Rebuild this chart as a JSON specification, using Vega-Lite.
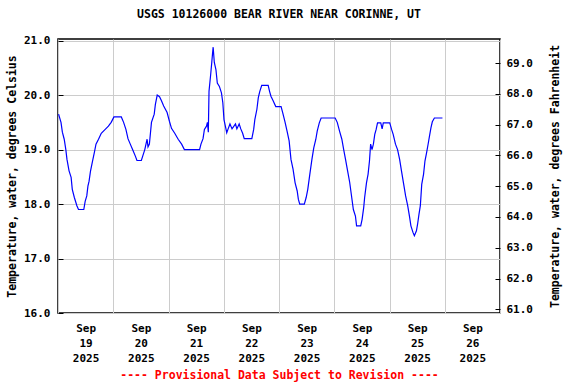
{
  "$schema": "https://vega.github.io/schema/vega-lite/v6.json",
  "width": 442,
  "height": 274,
  "autosize": {"type": "none"},
  "padding": {"left": 58, "top": 39, "right": 76, "bottom": 71},
  "background": "white",
  "title": {
    "text": "USGS 10126000 BEAR RIVER NEAR CORINNE, UT",
    "font": "DejaVu Sans Mono",
    "fontSize": 11.5,
    "fontWeight": "bold",
    "color": "black",
    "offset": 14
  },
  "config": {
    "view": {"stroke": "black", "strokeWidth": 1.5},
    "axis": {
      "labelFont": "DejaVu Sans Mono",
      "labelFontWeight": "bold",
      "labelFontSize": 11,
      "labelColor": "black",
      "titleFont": "DejaVu Sans Mono",
      "titleFontWeight": "bold",
      "titleFontSize": 11.5,
      "titleColor": "black",
      "gridColor": "#cccccc",
      "gridWidth": 1,
      "gridOpacity": 1,
      "domain": false,
      "tickColor": "black"
    }
  },
  "datasets": {
    "temps": [
      {"dateTime": "2025-09-19T00:15", "temp": 19.65},
      {"dateTime": "2025-09-19T01:18", "temp": 19.5},
      {"dateTime": "2025-09-19T01:54", "temp": 19.32},
      {"dateTime": "2025-09-19T02:42", "temp": 19.19},
      {"dateTime": "2025-09-19T03:24", "temp": 19.0},
      {"dateTime": "2025-09-19T03:54", "temp": 18.82},
      {"dateTime": "2025-09-19T04:48", "temp": 18.61},
      {"dateTime": "2025-09-19T05:42", "temp": 18.49},
      {"dateTime": "2025-09-19T06:12", "temp": 18.27},
      {"dateTime": "2025-09-19T07:06", "temp": 18.12},
      {"dateTime": "2025-09-19T08:12", "temp": 17.97},
      {"dateTime": "2025-09-19T08:54", "temp": 17.9},
      {"dateTime": "2025-09-19T11:12", "temp": 17.9},
      {"dateTime": "2025-09-19T11:48", "temp": 18.05},
      {"dateTime": "2025-09-19T12:30", "temp": 18.15},
      {"dateTime": "2025-09-19T13:00", "temp": 18.33},
      {"dateTime": "2025-09-19T13:30", "temp": 18.42},
      {"dateTime": "2025-09-19T14:06", "temp": 18.6},
      {"dateTime": "2025-09-19T15:00", "temp": 18.79},
      {"dateTime": "2025-09-19T15:48", "temp": 18.95},
      {"dateTime": "2025-09-19T16:30", "temp": 19.1},
      {"dateTime": "2025-09-19T17:36", "temp": 19.19},
      {"dateTime": "2025-09-19T18:48", "temp": 19.3},
      {"dateTime": "2025-09-19T20:30", "temp": 19.37},
      {"dateTime": "2025-09-19T21:54", "temp": 19.43},
      {"dateTime": "2025-09-19T23:06", "temp": 19.5},
      {"dateTime": "2025-09-20T00:18", "temp": 19.6},
      {"dateTime": "2025-09-20T03:30", "temp": 19.6},
      {"dateTime": "2025-09-20T04:30", "temp": 19.5},
      {"dateTime": "2025-09-20T05:30", "temp": 19.37},
      {"dateTime": "2025-09-20T06:24", "temp": 19.2},
      {"dateTime": "2025-09-20T07:24", "temp": 19.1},
      {"dateTime": "2025-09-20T08:24", "temp": 19.0},
      {"dateTime": "2025-09-20T09:36", "temp": 18.88},
      {"dateTime": "2025-09-20T10:18", "temp": 18.8},
      {"dateTime": "2025-09-20T12:12", "temp": 18.8},
      {"dateTime": "2025-09-20T12:48", "temp": 18.88},
      {"dateTime": "2025-09-20T13:42", "temp": 19.0},
      {"dateTime": "2025-09-20T14:42", "temp": 19.19},
      {"dateTime": "2025-09-20T15:06", "temp": 19.05},
      {"dateTime": "2025-09-20T15:42", "temp": 19.1},
      {"dateTime": "2025-09-20T16:36", "temp": 19.5},
      {"dateTime": "2025-09-20T17:48", "temp": 19.65},
      {"dateTime": "2025-09-20T18:18", "temp": 19.83},
      {"dateTime": "2025-09-20T19:06", "temp": 20.0},
      {"dateTime": "2025-09-20T20:06", "temp": 19.97},
      {"dateTime": "2025-09-20T20:54", "temp": 19.9},
      {"dateTime": "2025-09-20T21:54", "temp": 19.8},
      {"dateTime": "2025-09-20T23:24", "temp": 19.68},
      {"dateTime": "2025-09-21T00:24", "temp": 19.52},
      {"dateTime": "2025-09-21T01:18", "temp": 19.39},
      {"dateTime": "2025-09-21T02:42", "temp": 19.3},
      {"dateTime": "2025-09-21T04:12", "temp": 19.19},
      {"dateTime": "2025-09-21T05:42", "temp": 19.1},
      {"dateTime": "2025-09-21T06:54", "temp": 19.0},
      {"dateTime": "2025-09-21T13:30", "temp": 19.0},
      {"dateTime": "2025-09-21T14:06", "temp": 19.1},
      {"dateTime": "2025-09-21T15:00", "temp": 19.2},
      {"dateTime": "2025-09-21T15:36", "temp": 19.37},
      {"dateTime": "2025-09-21T16:30", "temp": 19.43},
      {"dateTime": "2025-09-21T16:54", "temp": 19.5},
      {"dateTime": "2025-09-21T17:18", "temp": 19.32},
      {"dateTime": "2025-09-21T17:36", "temp": 20.07},
      {"dateTime": "2025-09-21T18:18", "temp": 20.37},
      {"dateTime": "2025-09-21T18:48", "temp": 20.6},
      {"dateTime": "2025-09-21T19:06", "temp": 20.75},
      {"dateTime": "2025-09-21T19:24", "temp": 20.88},
      {"dateTime": "2025-09-21T19:54", "temp": 20.6},
      {"dateTime": "2025-09-21T20:36", "temp": 20.47},
      {"dateTime": "2025-09-21T21:12", "temp": 20.22},
      {"dateTime": "2025-09-21T22:06", "temp": 20.16},
      {"dateTime": "2025-09-21T23:00", "temp": 20.04},
      {"dateTime": "2025-09-21T23:36", "temp": 19.86},
      {"dateTime": "2025-09-22T00:06", "temp": 19.55},
      {"dateTime": "2025-09-22T00:42", "temp": 19.43},
      {"dateTime": "2025-09-22T01:18", "temp": 19.31},
      {"dateTime": "2025-09-22T01:54", "temp": 19.38},
      {"dateTime": "2025-09-22T02:42", "temp": 19.47},
      {"dateTime": "2025-09-22T03:36", "temp": 19.38},
      {"dateTime": "2025-09-22T05:06", "temp": 19.47},
      {"dateTime": "2025-09-22T05:42", "temp": 19.38},
      {"dateTime": "2025-09-22T06:42", "temp": 19.47},
      {"dateTime": "2025-09-22T07:24", "temp": 19.38},
      {"dateTime": "2025-09-22T08:12", "temp": 19.3},
      {"dateTime": "2025-09-22T08:54", "temp": 19.2},
      {"dateTime": "2025-09-22T12:12", "temp": 19.2},
      {"dateTime": "2025-09-22T13:00", "temp": 19.37},
      {"dateTime": "2025-09-22T13:30", "temp": 19.55},
      {"dateTime": "2025-09-22T14:24", "temp": 19.74},
      {"dateTime": "2025-09-22T15:00", "temp": 19.95},
      {"dateTime": "2025-09-22T15:36", "temp": 20.06},
      {"dateTime": "2025-09-22T16:30", "temp": 20.18},
      {"dateTime": "2025-09-22T19:18", "temp": 20.18},
      {"dateTime": "2025-09-22T19:54", "temp": 20.07},
      {"dateTime": "2025-09-22T20:30", "temp": 19.98},
      {"dateTime": "2025-09-22T21:24", "temp": 19.9},
      {"dateTime": "2025-09-22T22:36", "temp": 19.79},
      {"dateTime": "2025-09-23T00:54", "temp": 19.79},
      {"dateTime": "2025-09-23T01:36", "temp": 19.68},
      {"dateTime": "2025-09-23T02:36", "temp": 19.51},
      {"dateTime": "2025-09-23T03:30", "temp": 19.34},
      {"dateTime": "2025-09-23T04:24", "temp": 19.16},
      {"dateTime": "2025-09-23T05:12", "temp": 18.82},
      {"dateTime": "2025-09-23T06:06", "temp": 18.64},
      {"dateTime": "2025-09-23T07:00", "temp": 18.39},
      {"dateTime": "2025-09-23T07:54", "temp": 18.24},
      {"dateTime": "2025-09-23T08:24", "temp": 18.09},
      {"dateTime": "2025-09-23T09:00", "temp": 18.0},
      {"dateTime": "2025-09-23T11:00", "temp": 18.0},
      {"dateTime": "2025-09-23T11:48", "temp": 18.12},
      {"dateTime": "2025-09-23T12:30", "temp": 18.27},
      {"dateTime": "2025-09-23T13:24", "temp": 18.55},
      {"dateTime": "2025-09-23T14:18", "temp": 18.82},
      {"dateTime": "2025-09-23T15:06", "temp": 19.03},
      {"dateTime": "2025-09-23T16:00", "temp": 19.19},
      {"dateTime": "2025-09-23T16:36", "temp": 19.34},
      {"dateTime": "2025-09-23T17:30", "temp": 19.49},
      {"dateTime": "2025-09-23T18:18", "temp": 19.58},
      {"dateTime": "2025-09-24T00:24", "temp": 19.58},
      {"dateTime": "2025-09-24T01:18", "temp": 19.5},
      {"dateTime": "2025-09-24T02:18", "temp": 19.34},
      {"dateTime": "2025-09-24T03:18", "temp": 19.19},
      {"dateTime": "2025-09-24T04:06", "temp": 19.0},
      {"dateTime": "2025-09-24T04:54", "temp": 18.82},
      {"dateTime": "2025-09-24T05:48", "temp": 18.61},
      {"dateTime": "2025-09-24T06:42", "temp": 18.4},
      {"dateTime": "2025-09-24T07:24", "temp": 18.18},
      {"dateTime": "2025-09-24T08:18", "temp": 17.9},
      {"dateTime": "2025-09-24T09:12", "temp": 17.78},
      {"dateTime": "2025-09-24T09:42", "temp": 17.6},
      {"dateTime": "2025-09-24T11:30", "temp": 17.6},
      {"dateTime": "2025-09-24T12:06", "temp": 17.72},
      {"dateTime": "2025-09-24T12:48", "temp": 17.94},
      {"dateTime": "2025-09-24T13:12", "temp": 18.12},
      {"dateTime": "2025-09-24T14:00", "temp": 18.39},
      {"dateTime": "2025-09-24T14:42", "temp": 18.55},
      {"dateTime": "2025-09-24T15:18", "temp": 18.79},
      {"dateTime": "2025-09-24T15:48", "temp": 19.1},
      {"dateTime": "2025-09-24T16:24", "temp": 19.0},
      {"dateTime": "2025-09-24T17:00", "temp": 19.1},
      {"dateTime": "2025-09-24T17:36", "temp": 19.28},
      {"dateTime": "2025-09-24T18:12", "temp": 19.37},
      {"dateTime": "2025-09-24T18:48", "temp": 19.49},
      {"dateTime": "2025-09-24T20:12", "temp": 19.49},
      {"dateTime": "2025-09-24T20:48", "temp": 19.38},
      {"dateTime": "2025-09-24T21:18", "temp": 19.49},
      {"dateTime": "2025-09-25T00:06", "temp": 19.49},
      {"dateTime": "2025-09-25T00:54", "temp": 19.37},
      {"dateTime": "2025-09-25T01:36", "temp": 19.28},
      {"dateTime": "2025-09-25T02:36", "temp": 19.1},
      {"dateTime": "2025-09-25T03:30", "temp": 19.0},
      {"dateTime": "2025-09-25T04:24", "temp": 18.82},
      {"dateTime": "2025-09-25T05:12", "temp": 18.61},
      {"dateTime": "2025-09-25T06:06", "temp": 18.38},
      {"dateTime": "2025-09-25T07:00", "temp": 18.15},
      {"dateTime": "2025-09-25T07:54", "temp": 17.97},
      {"dateTime": "2025-09-25T08:42", "temp": 17.77},
      {"dateTime": "2025-09-25T09:18", "temp": 17.6},
      {"dateTime": "2025-09-25T10:12", "temp": 17.48},
      {"dateTime": "2025-09-25T10:48", "temp": 17.42},
      {"dateTime": "2025-09-25T11:42", "temp": 17.51},
      {"dateTime": "2025-09-25T12:12", "temp": 17.63},
      {"dateTime": "2025-09-25T12:48", "temp": 17.81},
      {"dateTime": "2025-09-25T13:24", "temp": 17.97},
      {"dateTime": "2025-09-25T14:00", "temp": 18.36},
      {"dateTime": "2025-09-25T14:48", "temp": 18.55},
      {"dateTime": "2025-09-25T15:24", "temp": 18.79},
      {"dateTime": "2025-09-25T16:06", "temp": 18.94},
      {"dateTime": "2025-09-25T16:54", "temp": 19.13},
      {"dateTime": "2025-09-25T17:30", "temp": 19.28},
      {"dateTime": "2025-09-25T18:00", "temp": 19.4},
      {"dateTime": "2025-09-25T18:36", "temp": 19.51},
      {"dateTime": "2025-09-25T19:30", "temp": 19.58},
      {"dateTime": "2025-09-25T23:00", "temp": 19.58}
    ],
    "fahrenheitRange": [{"tempF": 61.0}, {"tempF": 69.0}]
  },
  "layer": [
    {
      "data": {"name": "temps"},
      "mark": {"type": "line", "color": "#0000ff", "strokeWidth": 1.2, "clip": true},
      "encoding": {
        "x": {
          "field": "dateTime",
          "type": "temporal",
          "scale": {"domain": [{"year": 2025, "month": "sep", "date": 19}, {"year": 2025, "month": "sep", "date": 27}]},
          "axis": {
            "title": "---- Provisional Data Subject to Revision ----",
            "titleColor": "#ff0000",
            "titleFontSize": 11.5,
            "titlePadding": 6,
            "values": [
              {"year": 2025, "month": "sep", "date": 19},
              {"year": 2025, "month": "sep", "date": 20},
              {"year": 2025, "month": "sep", "date": 21},
              {"year": 2025, "month": "sep", "date": 22},
              {"year": 2025, "month": "sep", "date": 23},
              {"year": 2025, "month": "sep", "date": 24},
              {"year": 2025, "month": "sep", "date": 25},
              {"year": 2025, "month": "sep", "date": 26},
              {"year": 2025, "month": "sep", "date": 27}
            ],
            "ticks": false,
            "labelOffset": 27.6,
            "labelPadding": 9,
            "labelLineHeight": 15,
            "labelBound": false,
            "labelFlush": false,
            "labelOverlap": false,
            "labelExpr": "date(datum.value) == 27 ? '' : [timeFormat(datum.value, '%b'), timeFormat(datum.value, '%d'), timeFormat(datum.value, '%Y')]"
          }
        },
        "y": {
          "field": "temp",
          "type": "quantitative",
          "scale": {"domain": [16, 21.03], "nice": false, "zero": false},
          "axis": {
            "title": "Temperature, water, degrees Celsius",
            "values": [16, 17, 18, 19, 20, 21],
            "format": ".1f",
            "tickSize": -5,
            "labelPadding": 13,
            "titlePadding": 6
          }
        }
      }
    },
    {
      "data": {"name": "fahrenheitRange"},
      "mark": {"type": "point", "opacity": 0},
      "encoding": {
        "y": {
          "field": "tempF",
          "type": "quantitative",
          "scale": {"domain": [60.88, 69.78], "nice": false, "zero": false},
          "axis": {
            "orient": "right",
            "title": "Temperature, water, degrees Fahrenheit",
            "titleAngle": -90,
            "values": [61, 62, 63, 64, 65, 66, 67, 68, 69],
            "format": ".1f",
            "grid": false,
            "tickSize": -5,
            "labelPadding": 11,
            "titlePadding": 28
          }
        }
      }
    }
  ],
  "resolve": {"scale": {"y": "independent"}}
}
